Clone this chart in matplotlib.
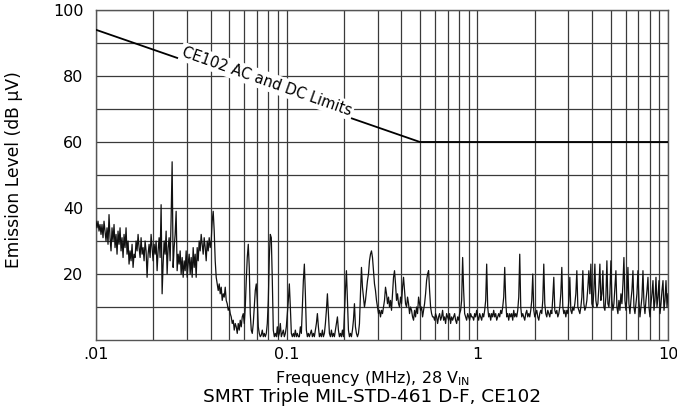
import numpy as np
import matplotlib
matplotlib.use("Agg")
import matplotlib.pyplot as plt
from matplotlib.ticker import LogLocator, NullFormatter, FixedLocator

# CE102 limit (MHz, dB uV)
LIMIT_FREQ = [0.01, 0.5, 10]
LIMIT_DB = [94, 60, 60]

LEVEL_DB = [
    36, 34, 36, 33, 35, 32, 35, 31, 36, 33,
    30, 34, 29, 38, 31, 27, 34, 30, 35, 28,
    32, 26, 33, 29, 34, 27, 31, 25, 32, 28,
    34, 26, 30, 23, 27, 24, 29, 22, 26, 25,
    30, 27, 32, 28, 25, 31, 26, 28, 24, 30,
    27, 19, 26, 29, 25, 32, 28, 24, 29, 26,
    30, 21, 27, 31, 25, 41, 14, 23, 30, 26,
    33, 20, 28, 31, 24, 37, 54, 22, 28, 32,
    39, 21, 26, 23, 27, 20, 25, 19, 24, 21,
    27, 19, 23, 26, 20, 25, 19, 28, 22, 26,
    19, 28, 24, 30, 27, 32, 29, 26, 31, 28,
    24, 30, 27, 31, 28, 30, 36, 39, 33, 24,
    19, 17, 15, 17, 14, 16, 12, 14, 13, 16,
    12, 11, 9, 10, 8, 7, 5, 6, 3, 5,
    4, 2, 5, 3, 6, 4, 7, 8, 5, 10,
    18, 25, 29, 22, 8, 3, 2, 5, 10, 15,
    17, 12, 4, 2, 1, 1.5, 3, 1, 2, 1,
    2, 5, 12, 25, 32, 31, 18, 3, 1, 2,
    1, 4, 1, 2, 5, 1, 2, 3, 1, 2,
    4, 8, 12, 17, 10, 2, 1, 2, 1, 3,
    1, 2, 1, 1, 4, 2, 10, 18, 23, 14,
    3, 1, 2, 1, 2, 3, 1, 2, 1, 3,
    5, 8, 4, 1, 2, 1, 3, 1, 2, 5,
    9, 14, 8, 2, 1, 3, 1, 2, 1, 3,
    5, 7, 3, 1, 2, 1, 3, 1, 8, 15,
    21, 12, 3, 1, 2, 1, 3, 6, 11, 4,
    2, 1, 2, 5, 14, 22, 16, 13, 10, 12,
    15, 18, 20, 24, 26, 27, 25, 21, 17, 15,
    12, 10, 8, 9, 7, 9, 8, 10, 12, 16,
    14, 11, 13, 10, 12, 9, 14, 19, 21, 17,
    12, 14, 11, 10, 13, 11, 16, 19, 15, 11,
    10, 13, 11, 8, 10, 9, 7, 6, 9, 7,
    10, 8, 13, 11, 9, 10, 7, 9, 11, 14,
    18, 20, 21, 15, 10, 8, 7, 7, 6, 8,
    7, 5, 7, 8, 6, 7, 9, 6, 7, 5,
    8, 7, 6, 8, 5, 7, 6, 7, 8, 6,
    5, 7, 6, 8, 9, 12, 25, 15, 8, 7,
    6, 8, 7, 6, 8, 7, 7, 6, 8, 7,
    9, 7, 6, 8, 7, 6, 8, 7, 9, 12,
    23, 10, 7, 8, 6, 8, 7, 9, 7, 8,
    6, 7, 8, 7, 9, 8, 10, 13, 22, 12,
    7, 8, 6, 8, 7, 8, 6, 9, 7, 8,
    7, 9, 13, 26, 10, 7, 8, 7, 6, 8,
    9, 7, 8, 7, 9, 12, 20, 9, 7, 8,
    9, 7, 6, 8, 9, 8, 12, 23, 11, 8,
    7, 9, 8, 7, 9, 8, 13, 19, 9, 8,
    9, 7, 8, 10, 14, 22, 10, 8, 9, 7,
    9, 8, 12, 19, 9, 8, 10, 9, 11, 14,
    21, 10, 9, 8, 10, 13, 21, 11, 9, 10,
    12, 16, 21, 14, 23, 11, 10, 15, 23, 12,
    10, 11, 16, 23, 12, 14, 21, 10, 9, 13,
    24, 11, 10, 14, 24, 12, 9, 11, 16, 21,
    10, 8, 12, 9, 14, 11, 17, 25, 12, 9,
    13, 22, 11, 8, 12, 15, 21, 10, 8, 11,
    14, 21, 12, 7, 10, 13, 21, 11, 8, 12,
    15, 19, 10, 7, 11, 14, 18, 9, 12, 19,
    10, 13, 18, 8, 11, 15, 18, 9, 12, 18,
    10, 14,
]
FREQ_MHZ = np.geomspace(0.01, 10, len(LEVEL_DB))

X_TICKS = [0.01, 0.1, 1, 10]
X_LABELS = [".01", "0.1", "1", "10"]
Y_TICKS = [20, 40, 60, 80, 100]

plt.rcParams.update({
    "font.family": "DejaVu Sans",
    "mathtext.default": "regular",
})

fig = plt.figure(figsize=(6.77, 4.15), dpi=100)
ax = fig.add_axes([96 / 677, 75 / 415, 572 / 677, 330 / 415])

ax.plot(FREQ_MHZ, LEVEL_DB, color="#111111", lw=0.9, zorder=3)
ax.plot(LIMIT_FREQ, LIMIT_DB, color="black", lw=1.3, zorder=4)

ax.set_xscale("log")
ax.set_xlim(0.01, 10)
ax.set_ylim(0, 100)

ax.set_xticks(X_TICKS)
ax.set_xticklabels(X_LABELS)
ax.xaxis.set_minor_locator(LogLocator(base=10, subs=np.arange(2, 10)))
ax.xaxis.set_minor_formatter(NullFormatter())
ax.set_yticks(Y_TICKS)
ax.yaxis.set_minor_locator(FixedLocator([10, 30, 50, 70, 90]))
ax.tick_params(which="both", length=0, labelsize=11.5)
ax.tick_params(axis="x", pad=5)
ax.tick_params(axis="y", pad=9)

ax.grid(True, which="both", color="#3a3a3a", lw=0.9)
ax.set_axisbelow(True)
for s in ax.spines.values():
    s.set_color("#555555")
    s.set_linewidth(1.0)

ax.text(0.0788, 78.4, "CE102 AC and DC Limits", rotation=-19.5,
        rotation_mode="anchor", ha="center", va="center", fontsize=10.5,
        bbox=dict(facecolor="white", edgecolor="none", pad=1.5), zorder=5)

fig.text(14 / 677, 1 - 170 / 415, "Emission Level (dB µV)", rotation=90,
         ha="center", va="center", fontsize=12.3)
fig.text(0.551, 0.089, "Frequency (MHz), 28 V$_{IN}$", ha="center",
         va="center", fontsize=11.5)
fig.text(0.550, 0.043, "SMRT Triple MIL-STD-461 D-F, CE102", ha="center",
         va="center", fontsize=13.3)

fig.savefig("out.png", dpi=100)
